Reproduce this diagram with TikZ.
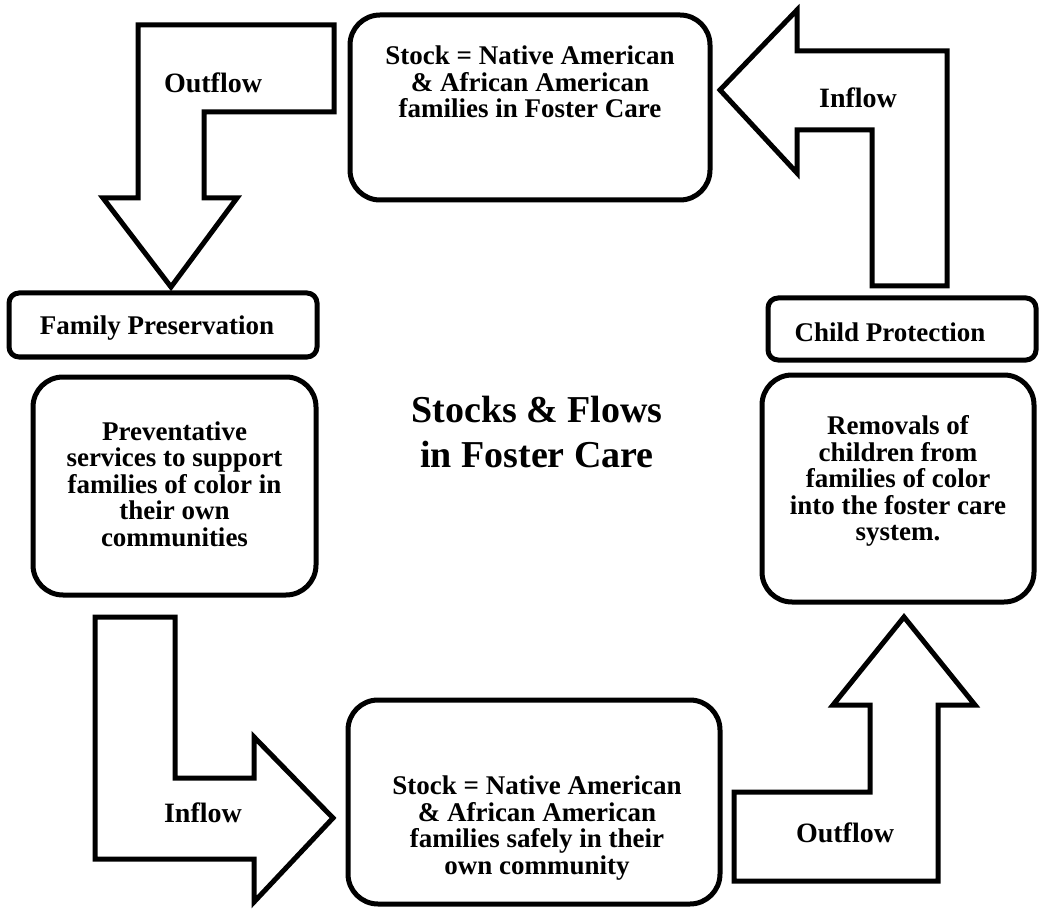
\documentclass[tikz,border=0pt]{standalone}
\usepackage{fontspec}
\setmainfont{Liberation Serif}
\usetikzlibrary{positioning}

\begin{document}
\begin{tikzpicture}[x=1pt, y=-1pt,
  frame/.style={draw, line width=5pt},
  bigbox/.style={frame, rounded corners=30pt},
  smallbox/.style={frame, rounded corners=10pt},
  blockarrow/.style={draw, line width=5pt, line join=miter, fill=white},
  boxtext/.style={font=\fontsize{27}{26.5}\selectfont\bfseries, align=center, inner sep=0pt},
  flowlabel/.style={font=\fontsize{28}{28}\selectfont\bfseries, inner sep=0pt}]
\useasboundingbox (0,0) rectangle (1039,909);

% stocks
\node[bigbox, minimum width=360pt, minimum height=185pt] (fcstock) at (530,107.5) {};
\node[boxtext] (fctext) at (530,82) {Stock = Native American\\ \& African American\\ families in Foster Care};
\node[bigbox, minimum width=372pt, minimum height=204pt] (comstock) at (534,802) {};
\node[boxtext] (comtext) at (537,828) {Stock = Native American\\ \& African American\\ families safely in their\\ own community};

% programs
\node[smallbox, minimum width=308pt, minimum height=64pt] (famp) at (163,325) {};
\node[boxtext] (famptext) at (157,328) {Family Preservation};
\node[smallbox, minimum width=268pt, minimum height=62pt] (childp) at (902,329) {};
\node[boxtext] (childptext) at (890,332) {Child Protection};

\node[bigbox, minimum width=283pt, minimum height=218pt] (prev) at (174.5,486) {};
\node[boxtext] (prevtext) at (174.5,484) {Preventative\\ services to support\\ families of color in\\ their own\\ communities};
\node[bigbox, minimum width=272pt, minimum height=227pt] (removals) at (898,488.5) {};
\node[boxtext] (removtext) at (898,481) {Removals of\\ children from\\ families of color\\ into the foster care\\ system.};

% title
\node[font=\fontsize{38}{45}\selectfont\bfseries, align=center] (title) at (537,432) {Stocks \& Flows\\ in Foster Care};

% flows
\draw[blockarrow] (138,25) -- (334,25) -- (334,112) -- (204,112) -- (204,198) -- (237,198)
  -- (171,287) -- (103,198) -- (138,198) -- cycle;
\draw[blockarrow] (720,90) -- (797,10) -- (797,51) -- (947,51) -- (947,286) -- (872,286)
  -- (872,130) -- (797,130) -- (797,173) -- cycle;
\draw[blockarrow] (95,617) -- (175,617) -- (175,778) -- (254,778) -- (254,737) -- (333,818)
  -- (254,902) -- (254,859) -- (95,859) -- cycle;
\draw[blockarrow] (734,792) -- (870,792) -- (870,705) -- (833,705) -- (904,617) -- (975,705)
  -- (938,705) -- (938,881) -- (734,881) -- cycle;

\node[flowlabel] (out1) at (213,83) {Outflow};
\node[flowlabel] (in1) at (858,98) {Inflow};
\node[flowlabel] (in2) at (203,813) {Inflow};
\node[flowlabel] (out2) at (845,833) {Outflow};
\end{tikzpicture}
\end{document}
